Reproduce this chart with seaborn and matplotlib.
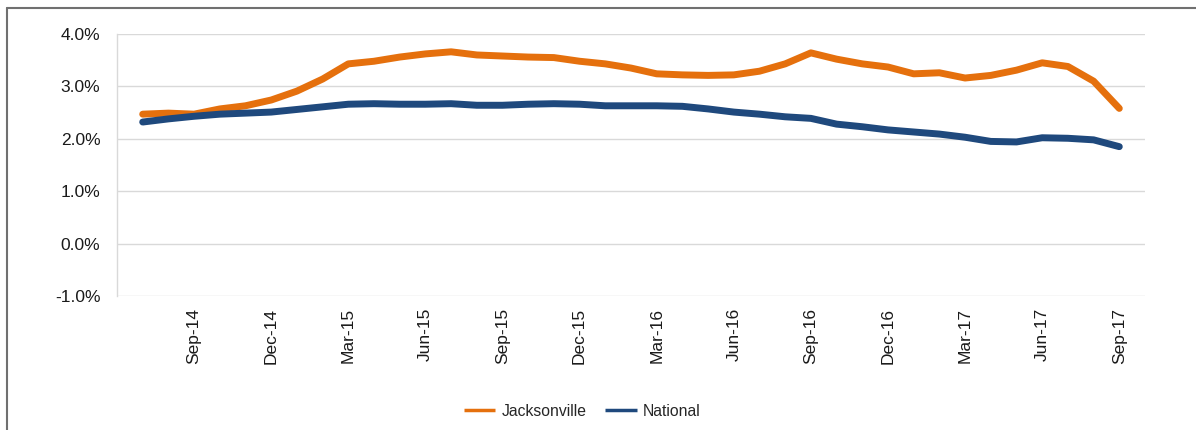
import numpy as np
import pandas as pd
import matplotlib
matplotlib.use("Agg")
import matplotlib.pyplot as plt
from matplotlib.lines import Line2D
import seaborn as sns

# Monthly series, Jul-14 through Sep-17
months = pd.date_range("2014-07-01", periods=39, freq="MS").strftime("%b-%y").tolist()

jacksonville = [2.47, 2.49, 2.47, 2.57, 2.63, 2.74, 2.91, 3.14, 3.43, 3.48,
                3.56, 3.62, 3.66, 3.60, 3.58, 3.56, 3.55, 3.48, 3.43, 3.35,
                3.24, 3.22, 3.21, 3.22, 3.29, 3.43, 3.64, 3.52, 3.43, 3.37,
                3.24, 3.26, 3.16, 3.21, 3.31, 3.45, 3.38, 3.10, 2.58]

national = [2.32, 2.38, 2.43, 2.47, 2.49, 2.51, 2.56, 2.61, 2.66, 2.67,
            2.66, 2.66, 2.67, 2.64, 2.64, 2.66, 2.67, 2.66, 2.63, 2.63,
            2.63, 2.62, 2.57, 2.51, 2.47, 2.42, 2.39, 2.28, 2.23, 2.17,
            2.13, 2.09, 2.03, 1.95, 1.94, 2.02, 2.01, 1.98, 1.85]

tick_months = months[2::3]
y_ticks = [-1.0, 0.0, 1.0, 2.0, 3.0, 4.0]

df = pd.DataFrame({
    "pos": list(range(len(months))) * 2,
    "month": months * 2,
    "value": jacksonville + national,
    "series": ["Jacksonville"] * len(months) + ["National"] * len(months),
})

sns.set_style("white")
plt.rcParams["font.family"] = ["Liberation Sans", "DejaVu Sans"]

fig = plt.figure(figsize=(11.96, 4.30), dpi=100)
ax = fig.add_axes([117 / 1196, 1 - 296 / 430, (1145 - 117) / 1196, (296 - 34) / 430])

palette = {"Jacksonville": "#E5700D", "National": "#1F497D"}
sns.lineplot(data=df, x="pos", y="value", hue="series", palette=palette,
             linewidth=5, solid_capstyle="round", ax=ax, legend=True)

ax.set_xlim(-1, len(months))
ax.set_ylim(-1.0, 4.0)
ax.set_yticks(y_ticks)
ax.set_yticklabels([f"{v:.1f}%" for v in y_ticks], fontsize=12.5, color="#1A1A1A")
tick_pos = [months.index(m) for m in tick_months]
ax.set_xticks(tick_pos)
ax.set_xticklabels(tick_months, rotation=90, fontsize=12.5, color="#1A1A1A")
ax.tick_params(axis="x", length=0, pad=8.5)
ax.tick_params(axis="y", length=0, pad=12)
ax.set_xlabel("")
ax.set_ylabel("")
ax.grid(axis="y", color="#D9D9D9", linewidth=1)
for side in ["top", "right", "bottom"]:
    ax.spines[side].set_visible(False)
ax.spines["left"].set_color("#D9D9D9")
ax.spines["left"].set_linewidth(1)

handles, labels = ax.get_legend_handles_labels()
ax.get_legend().remove()
leg_handles = [Line2D([0], [0], color=palette[l], linewidth=2.5,
                      solid_capstyle="butt") for l in labels]
fig.legend(leg_handles, labels, loc="center", bbox_to_anchor=(0.487, 0.044),
           ncol=2, frameon=False, fontsize=11.3, handlelength=2.0,
           handletextpad=0.4, columnspacing=1.2)

# Outer frame edges
fig.add_artist(Line2D([7 / 1196, 1.0], [1 - 8 / 430, 1 - 8 / 430],
                      color="#707070", linewidth=1.5, transform=fig.transFigure))
fig.add_artist(Line2D([7 / 1196, 7 / 1196], [0.0, 1 - 8 / 430],
                      color="#707070", linewidth=1.5, transform=fig.transFigure))

fig.savefig("out.png", dpi=100)
